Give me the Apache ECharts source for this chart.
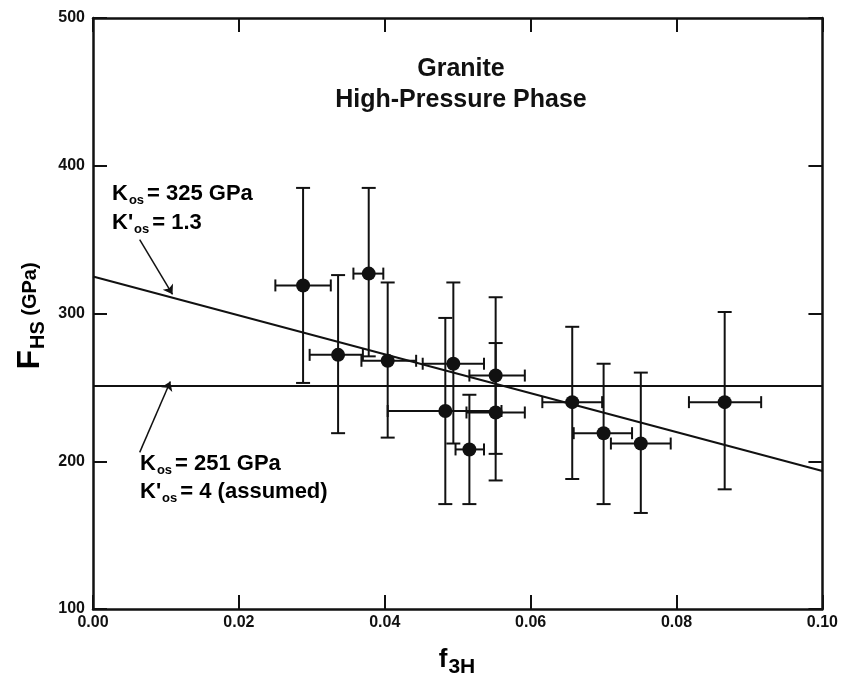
<!DOCTYPE html>
<html>
<head>
<meta charset="utf-8">
<script src="https://cdn.jsdelivr.net/npm/echarts@6/dist/echarts.min.js"></script>
<style>
  html, body { margin: 0; padding: 0; background: #fff; }
  #main { width: 841px; height: 677px; }
</style>
</head>
<body>
<div id="main"></div>
<script>
// measured points (f3H, F_HS) with error bar limits
var xVals = [0.0288, 0.0336, 0.0378, 0.0404, 0.0494, 0.0483, 0.0516, 0.0552, 0.0552, 0.0657, 0.0700, 0.0751, 0.0866];
var yVals = [319, 272, 327, 268, 266, 234, 208, 233, 258, 240, 219, 212, 240];
var xLow  = [0.0250, 0.0297, 0.0357, 0.0368, 0.0452, 0.0404, 0.0497, 0.0512, 0.0516, 0.0616, 0.0659, 0.0710, 0.0817];
var xHigh = [0.0326, 0.0370, 0.0398, 0.0443, 0.0536, 0.0560, 0.0536, 0.0592, 0.0592, 0.0698, 0.0739, 0.0792, 0.0916];
var yLow  = [253, 219, 271, 216, 212, 171, 171, 205, 187, 188, 171, 165, 181];
var yHigh = [385, 326, 385, 321, 321, 297, 245, 280, 311, 291, 266, 260, 301];

// fitted lines
var fitX = [0, 0.1];
var fitY = [325, 193.4];
var fixedY = [251, 251];

var xTicks = ['0.00', '0.02', '0.04', '0.06', '0.08', '0.10'];

var pts = [], bars = [];
for (var i = 0; i < xVals.length; i++) {
    pts.push([xVals[i], yVals[i]]);
    bars.push([xVals[i], yVals[i], xLow[i], xHigh[i], yLow[i], yHigh[i]]);
}

var ink = '#111';
var font = '"Liberation Sans", Arial, Helvetica, sans-serif';

function errorBar(params, api) {
    var c = api.coord([api.value(0), api.value(1)]);
    var l = api.coord([api.value(2), api.value(1)]);
    var r = api.coord([api.value(3), api.value(1)]);
    var b = api.coord([api.value(0), api.value(4)]);
    var t = api.coord([api.value(0), api.value(5)]);
    var cap = 6;
    var st = {stroke: ink, lineWidth: 2};
    return {
        type: 'group',
        children: [
            {type: 'line', shape: {x1: l[0], y1: c[1], x2: r[0], y2: c[1]}, style: st},
            {type: 'line', shape: {x1: l[0], y1: c[1] - cap, x2: l[0], y2: c[1] + cap}, style: st},
            {type: 'line', shape: {x1: r[0], y1: c[1] - cap, x2: r[0], y2: c[1] + cap}, style: st},
            {type: 'line', shape: {x1: c[0], y1: b[1], x2: c[0], y2: t[1]}, style: st},
            {type: 'line', shape: {x1: c[0] - 7, y1: b[1], x2: c[0] + 7, y2: b[1]}, style: st},
            {type: 'line', shape: {x1: c[0] - 7, y1: t[1], x2: c[0] + 7, y2: t[1]}, style: st}
        ]
    };
}

var axisLine = {show: true, onZero: false, lineStyle: {color: ink, width: 2.5}};
var tickIn = {show: true, inside: true, length: 14, lineStyle: {color: ink, width: 2}};
var lab = {color: ink, fontFamily: font, fontWeight: 'bold', fontSize: 16};

var richK = {
    b: {fontFamily: font, fontWeight: 'bold', fontSize: 22, color: ink},
    s: {fontFamily: font, fontWeight: 'bold', fontSize: 13, color: ink, padding: [13, 3, 0, 1]}
};

var option = {
    backgroundColor: '#fff',
    animation: false,
    grid: {left: 93, right: 17, top: 18, bottom: 68},
    xAxis: [{
        type: 'value', min: 0, max: 0.1, interval: 0.02,
        axisLine: axisLine, axisTick: tickIn, splitLine: {show: false},
        axisLabel: Object.assign({margin: 6, formatter: function (v) {
            return xTicks[Math.round(v / 0.02)];
        }}, lab)
    }, {
        type: 'value', min: 0, max: 0.1, interval: 0.02, position: 'top',
        axisLine: axisLine, axisTick: tickIn, splitLine: {show: false}, axisLabel: {show: false}
    }],
    yAxis: [{
        type: 'value', min: 100, max: 500, interval: 100,
        axisLine: axisLine, axisTick: tickIn, splitLine: {show: false},
        axisLabel: Object.assign({margin: 8}, lab)
    }, {
        type: 'value', min: 100, max: 500, interval: 100, position: 'right',
        axisLine: axisLine, axisTick: tickIn, splitLine: {show: false}, axisLabel: {show: false}
    }],
    series: [
        {
            type: 'line', data: [[fitX[0], fitY[0]], [fitX[1], fitY[1]]],
            symbol: 'none', lineStyle: {color: ink, width: 2}
        },
        {
            type: 'line', data: [[fitX[0], fixedY[0]], [fitX[1], fixedY[1]]],
            symbol: 'none', lineStyle: {color: ink, width: 2}
        },
        {
            type: 'custom', renderItem: errorBar, data: bars, z: 3
        },
        {
            type: 'scatter', data: pts, symbol: 'circle', symbolSize: 14,
            itemStyle: {color: ink, opacity: 1}, z: 4
        },
        {
            type: 'lines', coordinateSystem: 'cartesian2d',
            symbol: ['none', 'arrow'], symbolSize: 9,
            lineStyle: {color: ink, width: 1.5, opacity: 1},
            data: [
                {coords: [[0.0064, 350], [0.0109, 313]]},
                {coords: [[0.0064, 206], [0.0106, 254]]}
            ]
        }
    ],
    graphic: [
        {type: 'text', x: 461, y: 69, style: {text: 'Granite', fontFamily: font, fontWeight: 'bold', fontSize: 25, fill: ink, align: 'center', verticalAlign: 'middle'}},
        {type: 'text', x: 461, y: 100, style: {text: 'High-Pressure Phase', fontFamily: font, fontWeight: 'bold', fontSize: 25, fill: ink, align: 'center', verticalAlign: 'middle'}},
        {type: 'text', x: 112, y: 194, style: {text: '{b|K}{s|os}{b|= 325 GPa}', rich: richK, verticalAlign: 'middle'}},
        {type: 'text', x: 112, y: 223, style: {text: "{b|K'}{s|os}{b|= 1.3}", rich: richK, verticalAlign: 'middle'}},
        {type: 'text', x: 140, y: 464, style: {text: '{b|K}{s|os}{b|= 251 GPa}', rich: richK, verticalAlign: 'middle'}},
        {type: 'text', x: 140, y: 492, style: {text: "{b|K'}{s|os}{b|= 4 (assumed)}", rich: richK, verticalAlign: 'middle'}},
        {type: 'text', x: 457, y: 660, style: {
            text: '{b|f}{s|3H}', align: 'center', verticalAlign: 'middle',
            rich: {
                b: {fontFamily: font, fontWeight: 'bold', fontSize: 26, color: ink},
                s: {fontFamily: font, fontWeight: 'bold', fontSize: 21, color: ink, padding: [14, 0, 0, 1]}
            }
        }},
        {type: 'text', x: 30, y: 316, rotation: Math.PI / 2, style: {
            text: '{b|F}{s|HS}{m| (GPa)}', align: 'center', verticalAlign: 'middle',
            rich: {
                b: {fontFamily: font, fontWeight: 'bold', fontSize: 32, color: ink},
                s: {fontFamily: font, fontWeight: 'bold', fontSize: 20, color: ink, padding: [16, 0, 0, 1]},
                m: {fontFamily: font, fontWeight: 'bold', fontSize: 20, color: ink}
            }
        }}
    ]
};

var myChart = echarts.init(document.getElementById('main'));
myChart.setOption(option);
</script>
</body>
</html>
